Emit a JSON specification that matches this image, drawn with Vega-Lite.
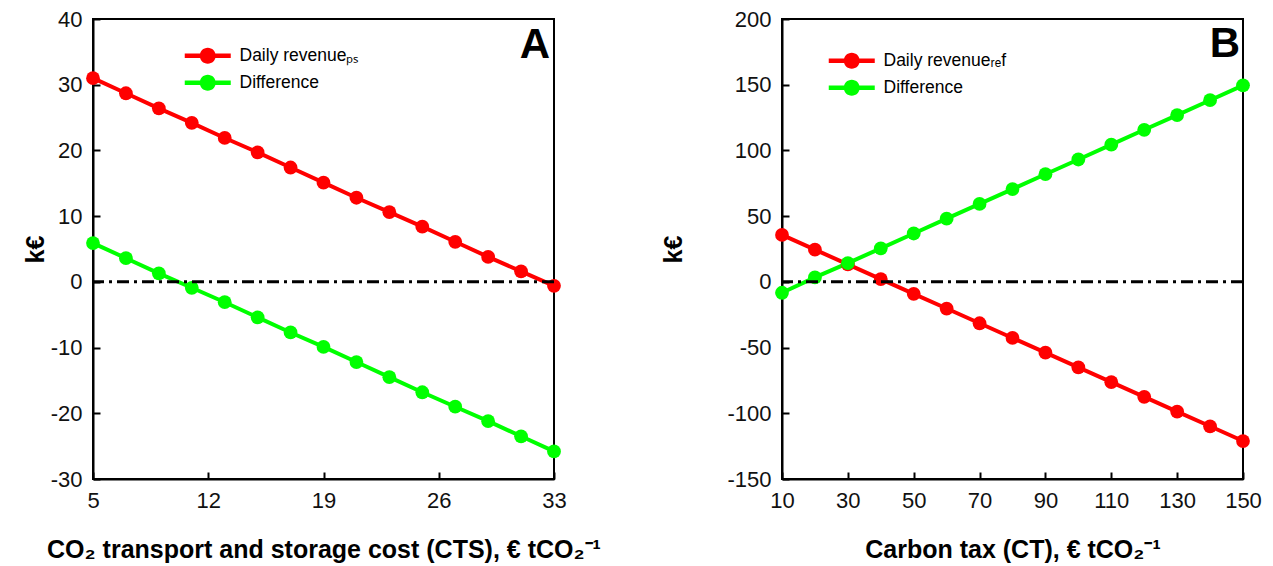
{
  "$schema": "https://vega.github.io/schema/vega-lite/v6.json",
  "background": "white",
  "padding": {"left": 22, "top": 7, "right": 5, "bottom": 5},
  "spacing": 58,
  "datasets": {
    "a": [
      {"x": 5, "value": 31.0, "series": "Daily revenueₚₛ"},
      {"x": 7, "value": 28.7, "series": "Daily revenueₚₛ"},
      {"x": 9, "value": 26.4, "series": "Daily revenueₚₛ"},
      {"x": 11, "value": 24.2, "series": "Daily revenueₚₛ"},
      {"x": 13, "value": 21.9, "series": "Daily revenueₚₛ"},
      {"x": 15, "value": 19.7, "series": "Daily revenueₚₛ"},
      {"x": 17, "value": 17.4, "series": "Daily revenueₚₛ"},
      {"x": 19, "value": 15.1, "series": "Daily revenueₚₛ"},
      {"x": 21, "value": 12.8, "series": "Daily revenueₚₛ"},
      {"x": 23, "value": 10.6, "series": "Daily revenueₚₛ"},
      {"x": 25, "value": 8.4, "series": "Daily revenueₚₛ"},
      {"x": 27, "value": 6.1, "series": "Daily revenueₚₛ"},
      {"x": 29, "value": 3.8, "series": "Daily revenueₚₛ"},
      {"x": 31, "value": 1.6, "series": "Daily revenueₚₛ"},
      {"x": 33, "value": -0.6, "series": "Daily revenueₚₛ"},
      {"x": 5, "value": 5.9, "series": "Difference"},
      {"x": 7, "value": 3.6, "series": "Difference"},
      {"x": 9, "value": 1.3, "series": "Difference"},
      {"x": 11, "value": -0.9, "series": "Difference"},
      {"x": 13, "value": -3.1, "series": "Difference"},
      {"x": 15, "value": -5.4, "series": "Difference"},
      {"x": 17, "value": -7.7, "series": "Difference"},
      {"x": 19, "value": -9.9, "series": "Difference"},
      {"x": 21, "value": -12.2, "series": "Difference"},
      {"x": 23, "value": -14.5, "series": "Difference"},
      {"x": 25, "value": -16.8, "series": "Difference"},
      {"x": 27, "value": -19.0, "series": "Difference"},
      {"x": 29, "value": -21.2, "series": "Difference"},
      {"x": 31, "value": -23.5, "series": "Difference"},
      {"x": 33, "value": -25.8, "series": "Difference"}
    ],
    "b": [
      {"x": 10, "value": 35.7, "series": "Daily revenueᵣₑf"},
      {"x": 20, "value": 24.5, "series": "Daily revenueᵣₑf"},
      {"x": 30, "value": 13.3, "series": "Daily revenueᵣₑf"},
      {"x": 40, "value": 2.1, "series": "Daily revenueᵣₑf"},
      {"x": 50, "value": -9.1, "series": "Daily revenueᵣₑf"},
      {"x": 60, "value": -20.3, "series": "Daily revenueᵣₑf"},
      {"x": 70, "value": -31.5, "series": "Daily revenueᵣₑf"},
      {"x": 80, "value": -42.7, "series": "Daily revenueᵣₑf"},
      {"x": 90, "value": -53.9, "series": "Daily revenueᵣₑf"},
      {"x": 100, "value": -65.1, "series": "Daily revenueᵣₑf"},
      {"x": 110, "value": -76.3, "series": "Daily revenueᵣₑf"},
      {"x": 120, "value": -87.5, "series": "Daily revenueᵣₑf"},
      {"x": 130, "value": -98.7, "series": "Daily revenueᵣₑf"},
      {"x": 140, "value": -109.9, "series": "Daily revenueᵣₑf"},
      {"x": 150, "value": -121.1, "series": "Daily revenueᵣₑf"},
      {"x": 10, "value": -8.3, "series": "Difference"},
      {"x": 20, "value": 3.4, "series": "Difference"},
      {"x": 30, "value": 14.3, "series": "Difference"},
      {"x": 40, "value": 25.5, "series": "Difference"},
      {"x": 50, "value": 36.8, "series": "Difference"},
      {"x": 60, "value": 48.1, "series": "Difference"},
      {"x": 70, "value": 59.3, "series": "Difference"},
      {"x": 80, "value": 70.6, "series": "Difference"},
      {"x": 90, "value": 81.9, "series": "Difference"},
      {"x": 100, "value": 93.1, "series": "Difference"},
      {"x": 110, "value": 104.4, "series": "Difference"},
      {"x": 120, "value": 115.7, "series": "Difference"},
      {"x": 130, "value": 126.9, "series": "Difference"},
      {"x": 140, "value": 138.2, "series": "Difference"},
      {"x": 150, "value": 149.5, "series": "Difference"}
    ]
  },
  "config": {
    "font": "Liberation Sans",
    "view": {"stroke": "black", "strokeWidth": 2},
    "axis": {
      "domainColor": "black", "domainWidth": 2,
      "tickColor": "black", "tickWidth": 2, "tickSize": -7,
      "grid": false,
      "labelFlush": false, "labelOverlap": false,
      "labelFont": "Liberation Sans", "labelFontSize": 22, "labelColor": "#111",
      "titleFont": "Liberation Sans", "titleFontSize": 25, "titleFontWeight": "bold", "titleColor": "black",
      "labelExpr": "'' + datum.value"
    },
    "axisX": {"labelPadding": 18, "titlePadding": 26},
    "axisY": {"labelPadding": 18, "titlePadding": 2},
    "legend": {
      "orient": "none",
      "title": null,
      "labelFont": "Liberation Sans", "labelFontSize": 17.5, "labelColor": "black",
      "symbolType": "M-2.875,-0.28L2.875,-0.28L2.875,0.28L-2.875,0.28Z M-1,0A1,1 0 1,1 1,0A1,1 0 1,1 -1,0Z",
      "symbolSize": 256,
      "symbolStrokeWidth": 0,
      "symbolOpacity": 1,
      "labelOffset": 23,
      "rowPadding": 8,
      "padding": 0
    }
  },
  "resolve": {"scale": {"color": "independent"}, "legend": {"color": "independent"}},
  "hconcat": [
    {
      "width": 461, "height": 460,
      "layer": [
        {
          "data": {"name": "a"},
          "mark": {"type": "line", "strokeWidth": 4},
          "encoding": {
            "x": {"field": "x", "type": "quantitative", "scale": {"domain": [5, 33], "nice": false, "zero": false},
                  "axis": {"values": [5, 12, 19, 26, 33], "title": "CO₂ transport and storage cost (CTS), € tCO₂⁻¹"}},
            "y": {"field": "value", "type": "quantitative", "scale": {"domain": [-30, 40], "nice": false},
                  "axis": {"values": [-30, -20, -10, 0, 10, 20, 30, 40], "title": "k€"}},
            "color": {"field": "series", "type": "nominal",
                      "scale": {"domain": ["Daily revenueₚₛ", "Difference"], "range": ["#FF0000", "#00FF00"]},
                      "legend": {"legendX": 106, "legendY": 28}}
          }
        },
        {
          "data": {"name": "a"},
          "mark": {"type": "circle", "size": 190, "opacity": 1},
          "encoding": {
            "x": {"field": "x", "type": "quantitative"},
            "y": {"field": "value", "type": "quantitative"},
            "color": {"field": "series", "type": "nominal"}
          }
        },
        {
          "data": {"values": [{}]},
          "mark": {"type": "rule", "strokeWidth": 3, "color": "black", "strokeDash": [12, 5, 3, 5]},
          "encoding": {"y": {"datum": 0}}
        },
        {
          "data": {"values": [{}]},
          "mark": {"type": "text", "text": "A", "fontSize": 42, "fontWeight": "bold", "align": "right", "baseline": "middle", "dx": -4, "font": "Liberation Sans", "color": "black"},
          "encoding": {"x": {"datum": 33}, "y": {"datum": 36.0}}
        }
      ]
    },
    {
      "width": 461, "height": 460,
      "layer": [
        {
          "data": {"name": "b"},
          "mark": {"type": "line", "strokeWidth": 4},
          "encoding": {
            "x": {"field": "x", "type": "quantitative", "scale": {"domain": [10, 150], "nice": false, "zero": false},
                  "axis": {"values": [10, 30, 50, 70, 90, 110, 130, 150], "title": "Carbon tax (CT), € tCO₂⁻¹"}},
            "y": {"field": "value", "type": "quantitative", "scale": {"domain": [-150, 200], "nice": false},
                  "axis": {"values": [-150, -100, -50, 0, 50, 100, 150, 200], "title": "k€", "titlePadding": 40}},
            "color": {"field": "series", "type": "nominal",
                      "scale": {"domain": ["Daily revenueᵣₑf", "Difference"], "range": ["#FF0000", "#00FF00"]},
                      "legend": {"legendX": 61, "legendY": 33}}
          }
        },
        {
          "data": {"name": "b"},
          "mark": {"type": "circle", "size": 190, "opacity": 1},
          "encoding": {
            "x": {"field": "x", "type": "quantitative"},
            "y": {"field": "value", "type": "quantitative"},
            "color": {"field": "series", "type": "nominal"}
          }
        },
        {
          "data": {"values": [{}]},
          "mark": {"type": "rule", "strokeWidth": 3, "color": "black", "strokeDash": [12, 5, 3, 5]},
          "encoding": {"y": {"datum": 0}}
        },
        {
          "data": {"values": [{}]},
          "mark": {"type": "text", "text": "B", "fontSize": 42, "fontWeight": "bold", "align": "right", "baseline": "middle", "dx": -3, "font": "Liberation Sans", "color": "black"},
          "encoding": {"x": {"datum": 150}, "y": {"datum": 181}}
        }
      ]
    }
  ]
}
